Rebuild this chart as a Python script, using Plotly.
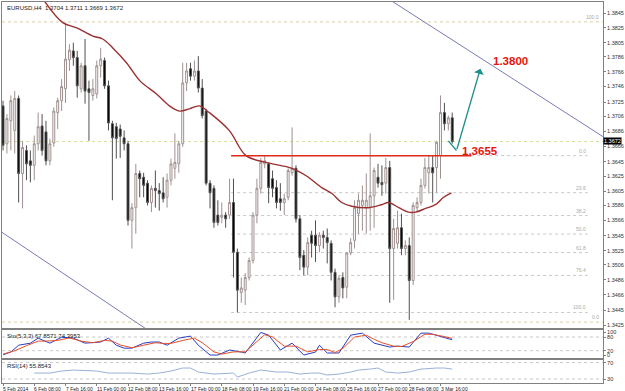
import plotly.graph_objects as go

# ---------------- data (EURUSD H4) ----------------
open_ = [1.3720,1.3669,1.3700,1.3687,1.3730,1.3629,1.3660,1.3646,1.3640,1.3669,
         1.3693,1.3685,1.3646,1.3670,1.3711,1.3727,1.3743,1.3782,1.3794,1.3785,
         1.3743,1.3774,1.3743,1.3734,1.3736,1.3774,1.3781,1.3747,1.3696,1.3692,
         1.3689,1.3677,1.3669,1.3566,1.3583,1.3629,1.3624,1.3616,1.3590,1.3609,
         1.3606,1.3603,1.3597,1.3620,1.3636,1.3642,1.3669,1.3751,1.3770,1.3760,
         1.3767,1.3744,1.3713,1.3616,1.3609,1.3573,1.3570,1.3573,1.3573,1.3590,
         1.3523,1.3469,1.3472,1.3489,1.3512,1.3573,1.3609,1.3642,1.3642,1.3622,
         1.3610,1.3595,1.3590,1.3597,1.3630,1.3636,1.3568,1.3519,1.3503,1.3546,
         1.3546,1.3532,1.3546,1.3543,1.3535,1.3496,1.3463,1.3489,1.3476,1.3522,
         1.3539,1.3575,1.3586,1.3583,1.3583,1.3599,1.3624,1.3617,1.3616,1.3637,
         1.3528,1.3535,1.3556,1.3528,1.3532,1.3485,1.3583,1.3590,1.3613,1.3630,
         1.3637,1.3637,1.3653,1.3711,1.3696,1.3704]
high = [1.3727,1.3709,1.3734,1.3740,1.3734,1.3673,1.3667,1.3660,1.3680,1.3711,
        1.3709,1.3700,1.3676,1.3718,1.3731,1.3756,1.3832,1.3803,1.3805,1.3794,
        1.3778,1.3810,1.3754,1.3756,1.3781,1.3798,1.3785,1.3754,1.3700,1.3697,
        1.3695,1.3687,1.3673,1.3589,1.3642,1.3633,1.3630,1.3620,1.3613,1.3633,
        1.3616,1.3624,1.3629,1.3649,1.3683,1.3673,1.3778,1.3778,1.3778,1.3781,
        1.3787,1.3756,1.3716,1.3620,1.3613,1.3593,1.3590,1.3577,1.3622,1.3622,
        1.3528,1.3489,1.3495,1.3516,1.3577,1.3622,1.3650,1.3654,1.3644,1.3633,
        1.3620,1.3616,1.3602,1.3636,1.3691,1.3640,1.3573,1.3526,1.3543,1.3552,
        1.3566,1.3550,1.3552,1.3555,1.3539,1.3501,1.3492,1.3496,1.3523,1.3542,
        1.3593,1.3602,1.3613,1.3629,1.3683,1.3637,1.3642,1.3640,1.3650,1.3646,
        1.3568,1.3579,1.3575,1.3539,1.3543,1.3590,1.3597,1.3622,1.3650,1.3653,
        1.3653,1.3673,1.3734,1.3724,1.3707,1.3711]
low = [1.3660,1.3656,1.3660,1.3656,1.3590,1.3582,1.3620,1.3617,1.3620,1.3660,
       1.3653,1.3640,1.3640,1.3665,1.3689,1.3713,1.3724,1.3767,1.3774,1.3731,
       1.3738,1.3723,1.3673,1.3727,1.3730,1.3758,1.3743,1.3687,1.3593,1.3649,
       1.3650,1.3660,1.3559,1.3528,1.3548,1.3597,1.3597,1.3586,1.3577,1.3583,
       1.3579,1.3590,1.3583,1.3613,1.3622,1.3630,1.3665,1.3740,1.3754,1.3754,
       1.3738,1.3703,1.3613,1.3582,1.3556,1.3559,1.3562,1.3556,1.3568,1.3489,
       1.3442,1.3455,1.3452,1.3485,1.3508,1.3562,1.3602,1.3636,1.3589,1.3597,
       1.3582,1.3579,1.3573,1.3593,1.3626,1.3563,1.3499,1.3492,1.3492,1.3516,
       1.3510,1.3523,1.3528,1.3508,1.3485,1.3449,1.3455,1.3461,1.3461,1.3519,
       1.3528,1.3548,1.3552,1.3548,1.3552,1.3556,1.3610,1.3599,1.3602,1.3455,
       1.3459,1.3528,1.3519,1.3519,1.3432,1.3479,1.3577,1.3586,1.3609,1.3602,
       1.3590,1.3603,1.3622,1.3687,1.3687,1.3669]
close = [1.3667,1.3703,1.3727,1.3730,1.3629,1.3664,1.3642,1.3640,1.3669,1.3692,
         1.3660,1.3646,1.3669,1.3713,1.3727,1.3746,1.3783,1.3795,1.3785,1.3747,
         1.3774,1.3740,1.3738,1.3743,1.3774,1.3783,1.3747,1.3697,1.3677,1.3676,
         1.3679,1.3669,1.3566,1.3583,1.3629,1.3622,1.3613,1.3590,1.3609,1.3606,
         1.3602,1.3595,1.3620,1.3642,1.3644,1.3669,1.3751,1.3767,1.3760,1.3767,
         1.3744,1.3707,1.3616,1.3603,1.3563,1.3563,1.3573,1.3568,1.3590,1.3523,
         1.3472,1.3475,1.3489,1.3512,1.3573,1.3609,1.3644,1.3646,1.3610,1.3609,
         1.3590,1.3590,1.3595,1.3633,1.3636,1.3568,1.3516,1.3503,1.3536,1.3535,
         1.3532,1.3546,1.3543,1.3536,1.3496,1.3463,1.3488,1.3475,1.3522,1.3536,
         1.3583,1.3593,1.3593,1.3593,1.3599,1.3633,1.3616,1.3614,1.3637,1.3528,
         1.3555,1.3556,1.3528,1.3532,1.3485,1.3586,1.3590,1.3613,1.3637,1.3637,
         1.3630,1.3671,1.3711,1.3696,1.3704,1.3672]

# moving average (bar index, price)
ma_x = [10.2,15.3,18.9,23,25.5,28.1,31.6,35,39.3,42.6,45.2,47.7,50.3,52.8,57.9,62.2,
        67.3,74,77.6,81.6,84.2,86.7,89.3,93.6,96.9,98.7,101.3,103.8,105.6,108.2,110.7,112.8,114.8]
ma_y = [1.3864,1.3832,1.3825,1.3814,1.3810,1.3798,1.3778,1.3754,1.3736,1.3720,1.3713,1.3716,
        1.3720,1.3711,1.3687,1.3653,1.3644,1.3636,1.3626,1.3610,1.3602,1.3590,1.3585,1.3583,
        1.3587,1.3590,1.3583,1.3577,1.3577,1.3582,1.3587,1.3597,1.3603]

# stochastic (5,3,3)
sto_main_x = [0,2,4,7,9,12,15,18,21,25,27,29,31,33,36,38,40,42,45,48,50,53,55,58,61,62,66,68,
              71,74,77,80,81,83,86,89,92,94,95,99,101,104,107,109,111,115]
sto_main = [2,14,44,53,75,53,79,75,53,58,75,44,31,31,53,58,58,44,75,84,44,1,1,23,14,10,100,88,
            23,53,1,14,44,10,10,88,97,66,53,36,40,36,97,97,88,67.8571]
sto_sig_x = [0,3,6,9,11,14,17,20,23,26,28,30,33,36,39,41,43,46,49,51,54,56,59,62,63,67,69,72,
             75,78,81,83,85,87,90,93,95,97,100,102,105,108,110,113,115]
sto_sig = [5,20,42,62,62,65,76,62,55,65,62,45,33,45,55,52,52,65,75,55,15,5,15,15,30,90,80,40,
           40,15,25,25,12,30,80,88,70,55,40,38,60,92,92,80,74.3953]

# RSI(14)
rsi_x = [8,10,12,15,18,24,27,31,33,37,40,43,46,48,50,54,59,60,63,66,70,73,76,79,81,83,86,89,
         91,94,96,98,101,104,105,107,111,113,115]
rsi = [44.5,44.5,44.5,49.4,51.8,49.4,44.5,44.5,44.5,42.1,44.5,49.4,56.7,56.7,47,42.1,44.5,34.8,
       44.5,51.8,47,47,42.1,44.5,44.5,39.7,42.1,47,51.8,54.2,56.7,47,44.5,47,49.4,54.2,56.7,56.7,54.2]
rsi_label_value = 55.8543

price_ticks = [1.3845,1.3825,1.3805,1.3786,1.3766,1.3746,1.3725,1.3706,1.3686,1.3666,1.3645,
               1.3625,1.3605,1.3586,1.3566,1.3545,1.3525,1.3506,1.3486,1.3466,1.3445,1.3425]
date_ticks = [0,8,16,24,32,40,48,56,64,72,80,88,96,104,112]
date_labels = ["5 Feb 2014","6 Feb 08:00","7 Feb 16:00","11 Feb 00:00","12 Feb 08:00",
               "13 Feb 16:00","17 Feb 00:00","18 Feb 08:00","19 Feb 16:00","21 Feb 00:00",
               "24 Feb 08:00","25 Feb 16:00","27 Feb 00:00","28 Feb 08:00","3 Mar 16:00"]

fib_levels = [0.0, 23.6, 38.2, 50.0, 61.8, 76.4, 100.0]
fib_top, fib_bottom = 1.3653, 1.3442
fib2_top, fib2_bottom = 1.3833, 1.3429
resistance = 1.3653
resistance_label = "1.3655"
target = 1.3800
bid = close[-1]

# channel lines (bar index, price)
upper_ch_x, upper_ch_y = [99.5, 153.6], [1.38611, 1.36786]
lower_ch_x, lower_ch_y = [-0.26, 38.0], [1.35498, 1.34150]
arrow_x, arrow_y = [114, 116.1, 122.2], [1.3673, 1.3660, 1.3770]

# ---------------- figure ----------------
FONT = "Liberation Sans"
GRAY = "#808080"
XR = [-0.26, 153.6]
n = len(close)
idx = list(range(n))

fig = go.Figure()
fig.add_trace(go.Candlestick(
    x=idx, open=open_, high=high, low=low, close=close,
    increasing=dict(line=dict(color="#a09090", width=1), fillcolor="#ffffff"),
    decreasing=dict(line=dict(color="#505050", width=1), fillcolor="#000000"),
    whiskerwidth=0, showlegend=False, hoverinfo="skip", xaxis="x", yaxis="y"))

fig.add_trace(go.Scatter(x=ma_x, y=ma_y, mode="lines", line=dict(color="#9b3030", width=1.4, shape="spline"),
                         showlegend=False, hoverinfo="skip", xaxis="x", yaxis="y"))
for cx, cy in [(upper_ch_x, upper_ch_y), (lower_ch_x, lower_ch_y)]:
    fig.add_trace(go.Scatter(x=cx, y=cy, mode="lines", line=dict(color="#7a7ab8", width=1),
                             showlegend=False, hoverinfo="skip", xaxis="x", yaxis="y"))
fig.add_trace(go.Scatter(x=arrow_x[:2], y=arrow_y[:2], mode="lines", line=dict(color="#1f8f8a", width=1.3),
                         showlegend=False, hoverinfo="skip", xaxis="x", yaxis="y"))

fig.add_trace(go.Scatter(x=sto_main_x, y=sto_main, mode="lines", line=dict(color="#2a3cc0", width=1),
                         showlegend=False, hoverinfo="skip", xaxis="x2", yaxis="y2"))
fig.add_trace(go.Scatter(x=sto_sig_x, y=sto_sig, mode="lines", line=dict(color="#e8502a", width=1),
                         showlegend=False, hoverinfo="skip", xaxis="x2", yaxis="y2"))
fig.add_trace(go.Scatter(x=rsi_x, y=rsi, mode="lines", line=dict(color="#9ab0d8", width=1),
                         showlegend=False, hoverinfo="skip", xaxis="x3", yaxis="y3"))

shapes = []
ann = []
def hline(xref, yref, x0, x1, y, color, dash="dot", width=1):
    shapes.append(dict(type="line", xref=xref, yref=yref, x0=x0, x1=x1, y0=y, y1=y,
                       line=dict(color=color, width=width, dash=dash), layer="below"))

fib_x0, fib_x1 = 58.4, 149.7
for lv in fib_levels:
    p = fib_top - lv / 100 * (fib_top - fib_bottom)
    hline("x", "y", fib_x0, fib_x1, p, "#c8c8c8")
    ann.append(dict(x=fib_x1, y=p, xref="x", yref="y", text=f"{lv:.1f}", showarrow=False,
                    xanchor="right", yanchor="bottom", font=dict(size=5, color="#a8a8a8", family=FONT)))
for lv, p in [(100.0, fib2_top), (0.0, fib2_bottom)]:
    hline("x", "y", XR[0], XR[1], p, "#d8d0a8")
    ann.append(dict(x=153.2, y=p, xref="x", yref="y", text=f"{lv:.1f}", showarrow=False,
                    xanchor="right", yanchor="bottom", font=dict(size=5, color="#a8a8a8", family=FONT)))
hline("x", "y", XR[0], XR[1], bid, "#d4e0a0")
shapes.append(dict(type="line", xref="x", yref="y", x0=58.4, x1=119.9, y0=resistance, y1=resistance,
                   line=dict(color="#e02a1a", width=1.5)))
for lv in (80, 20):
    hline("x2", "y2", XR[0], XR[1], lv, "#c8c8c8")
for lv in (70, 30):
    hline("x3", "y3", XR[0], XR[1], lv, "#c8c8c8")

ann.append(dict(x=arrow_x[2], y=arrow_y[2], ax=arrow_x[1], ay=arrow_y[1], xref="x", yref="y",
                axref="x", ayref="y", text="", showarrow=True, arrowhead=1, arrowsize=1.3,
                arrowwidth=1.3, arrowcolor="#1f8f8a"))
ann.append(dict(x=129.8, y=1.3780, xref="x", yref="y", text=f"{target:.4f}", showarrow=False,
                font=dict(size=11.5, color="#e8140c", family=FONT, weight="bold")))
ann.append(dict(x=122.1, y=1.3659, xref="x", yref="y", text=resistance_label, showarrow=False,
                font=dict(size=11.5, color="#e8140c", family=FONT, weight="bold")))
ann.append(dict(x=1, y=bid, xref="paper", yref="y", text=f"{bid:.4f}", showarrow=False,
                xanchor="left", xshift=0, yshift=1, bgcolor="#000000", borderpad=0,
                font=dict(size=5.5, color="#ffffff", family=FONT)))
ann.append(dict(x=0, y=1, xref="paper", yref="paper", xshift=3, yshift=-1, showarrow=False,
                xanchor="left", yanchor="top",
                text=f"EURUSD,H4  {open_[-1]:.4f} {high[-1]:.4f} {low[-1]:.4f} {close[-1]:.4f}",
                font=dict(size=6, color="#202020", family=FONT)))
ann.append(dict(x=0, y=0.1387, xref="paper", yref="paper", xshift=3, yshift=-1, showarrow=False,
                xanchor="left", yanchor="top",
                text=f"Sto(5,3,3) {sto_main[-1]:.4f} {sto_sig[-1]:.4f}",
                font=dict(size=6, color="#202020", family=FONT)))
ann.append(dict(x=0, y=0.0602, xref="paper", yref="paper", xshift=3, yshift=-1, showarrow=False,
                xanchor="left", yanchor="top", text=f"RSI(14) {rsi_label_value:.4f}",
                font=dict(size=6, color="#202020", family=FONT)))
for t, lab in zip(date_ticks, date_labels):
    ann.append(dict(x=t, y=0, xref="x3", yref="paper", text=lab, showarrow=False,
                    xanchor="left", yanchor="top", xshift=-2, yshift=-1,
                    font=dict(size=5, color="#202020", family=FONT)))

axis_common = dict(showline=True, mirror=True, linecolor=GRAY, linewidth=1, showgrid=False,
                   zeroline=False, range=XR, fixedrange=True)
yfont = dict(size=5.5, color="#303030", family=FONT)
fig.update_layout(
    width=625, height=391, margin=dict(l=2, r=20, t=1, b=8),
    paper_bgcolor="white", plot_bgcolor="white", showlegend=False,
    shapes=shapes, annotations=ann,
    xaxis=dict(**axis_common, anchor="y", showticklabels=False, rangeslider=dict(visible=False)),
    xaxis2=dict(**axis_common, anchor="y2", showticklabels=False),
    xaxis3=dict(**axis_common, anchor="y3", showticklabels=False, ticks="outside", ticklen=2,
                tickcolor=GRAY, tickvals=date_ticks),
    yaxis=dict(domain=[0.144, 1.0], range=[1.34209, 1.38598], side="right", anchor="x",
               tickvals=price_ticks, ticktext=[f"{v:.4f}" for v in price_ticks],
               ticks="outside", ticklen=2, tickcolor=GRAY, tickfont=yfont,
               showline=True, mirror=True, linecolor=GRAY, showgrid=False, zeroline=False),
    yaxis2=dict(domain=[0.0668, 0.1387], range=[-10, 110], side="right", anchor="x2",
                tickvals=[0, 20, 80, 100], ticks="outside", ticklen=2, tickcolor=GRAY, tickfont=yfont,
                showline=True, mirror=True, linecolor=GRAY, showgrid=False, zeroline=False),
    yaxis3=dict(domain=[0.0, 0.0602], range=[20.3, 76.1], side="right", anchor="x3",
                tickvals=[30, 70], ticks="outside", ticklen=2, tickcolor=GRAY, tickfont=yfont,
                showline=True, mirror=True, linecolor=GRAY, showgrid=False, zeroline=False),
)
fig.write_html("out.html")
